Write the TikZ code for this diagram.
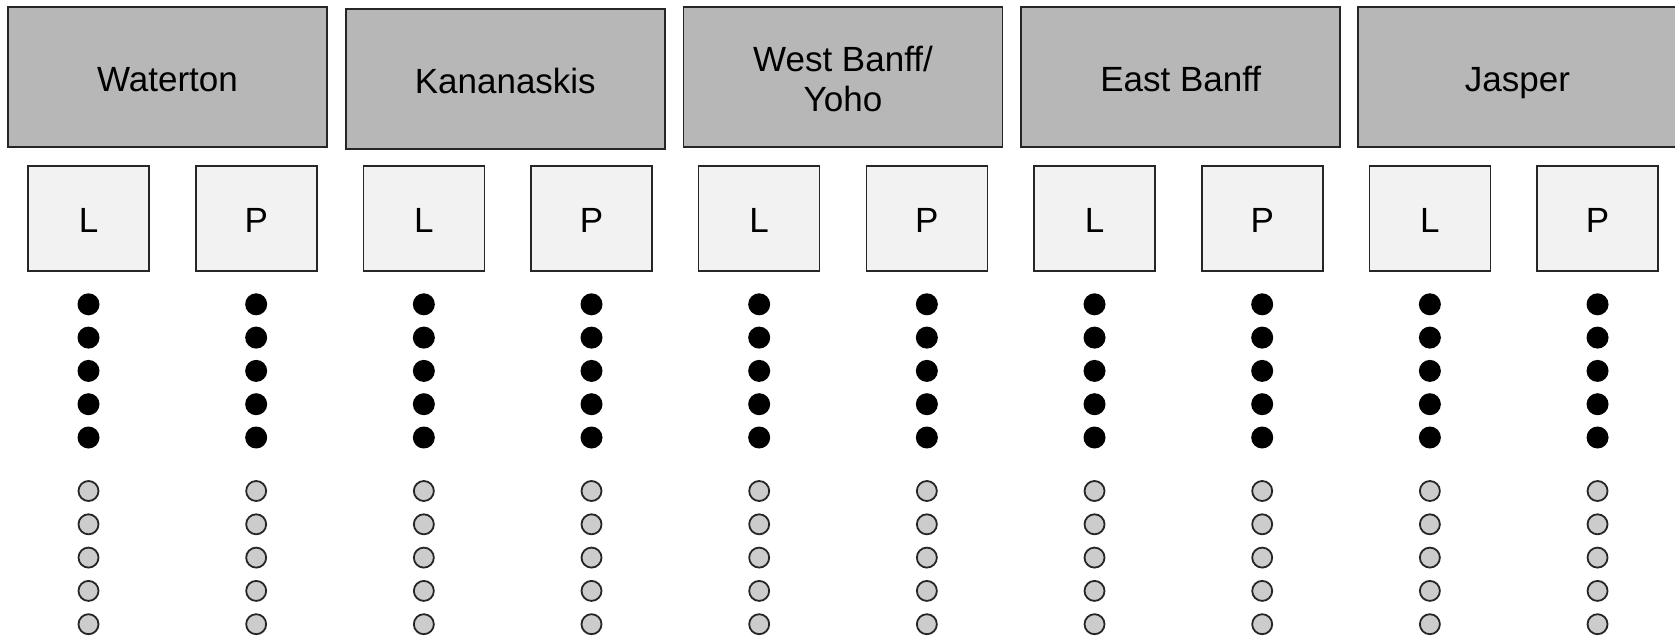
\documentclass[tikz,border=0pt]{standalone}
\usepackage{fontspec}
\setmainfont{Liberation Sans}
\definecolor{regfill}{HTML}{B7B7B7}
\definecolor{boxfill}{HTML}{F2F2F2}
\definecolor{ringfill}{HTML}{CCCCCC}
\begin{document}
\begin{tikzpicture}[x=0.5pt,y=-0.5pt,
  region/.style={draw=black!85, line width=0.8pt, fill=regfill, minimum width=159.5pt, minimum height=70pt, inner sep=0pt, align=center, font=\fontsize{17.5}{20}\selectfont, text height=14.5pt, text depth=0pt},
  region2/.style={draw=black!85, line width=0.8pt, fill=regfill, minimum width=159.5pt, minimum height=70pt, inner sep=0pt, align=center, font=\fontsize{17.5}{20}\selectfont, text height=34.8pt, text depth=0pt},
  lpbox/.style={draw=black!85, line width=0.8pt, fill=boxfill, minimum width=60.5pt, minimum height=52.5pt, inner sep=0pt, font=\fontsize{17.5}{20}\selectfont, text height=13.5pt, text depth=0pt},
  blackdot/.style={circle, fill=black, minimum size=11pt, inner sep=0pt},
  graydot/.style={circle, draw=black!85, line width=0.9pt, fill=ringfill, minimum size=10pt, inner sep=0pt}]
\useasboundingbox (0,0) rectangle (1675,637);
\node[region] (wat) at (167.5,77) {Waterton};
\node[region] (kan) at (505.3,79) {Kananaskis};
\node[region2] (wby) at (843,77) {West Banff/\\Yoho};
\node[region] (eba) at (1180.7,77) {East Banff};
\node[region] (jas) at (1517.5,77) {Jasper};
\foreach \g in {0,...,4}{
  \node[lpbox] (L\g) at ({88.5+335.34*\g},218.5) {L};
  \node[lpbox] (P\g) at ({256.2+335.34*\g},218.5) {P};
}
\foreach \i in {0,...,9}{
  \foreach \j in {0,...,4}{
    \node[blackdot] (b-\i-\j) at ({88.5+167.67*\i},{304.3+33.3*\j}) {};
    \node[graydot] (g-\i-\j) at ({88.5+167.67*\i},{491+33.3*\j}) {};
  }
}
\end{tikzpicture}
\end{document}
